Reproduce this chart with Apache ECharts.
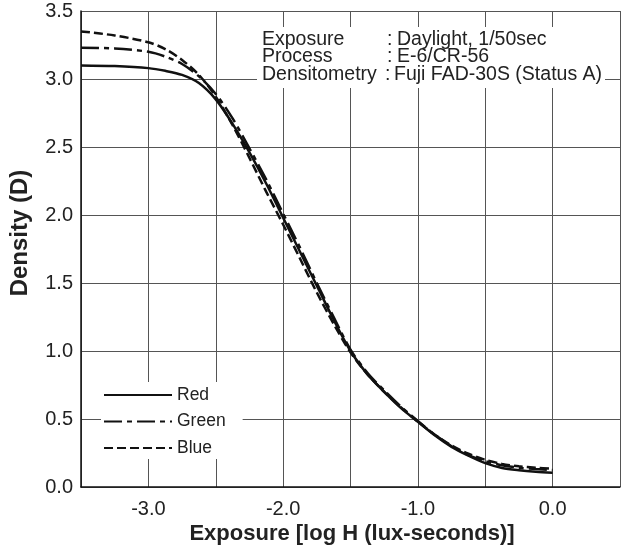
<!DOCTYPE html>
<html>
<head>
<meta charset="utf-8">
<script src="https://cdn.jsdelivr.net/npm/echarts@6.0.0/dist/echarts.min.js"></script>
<style>
html,body{margin:0;padding:0;background:#fff;}
#chart{width:623px;height:552px;}
</style>
</head>
<body>
<div id="chart"></div>
<script>
// ---- data ----
const logH = [-3.5, -3.25, -3.0, -2.875, -2.75, -2.625, -2.5, -2.375, -2.25, -2.125, -2.0, -1.875, -1.75, -1.625, -1.5, -1.375, -1.25, -1.125, -1.0, -0.875, -0.75, -0.625, -0.5, -0.375, -0.25, -0.125, 0.0];
const redD   = [3.10, 3.095, 3.08, 3.06, 3.03, 2.97, 2.85, 2.67, 2.46, 2.23, 1.98, 1.73, 1.48, 1.23, 1.00, 0.83, 0.70, 0.58, 0.48, 0.38, 0.295, 0.23, 0.175, 0.14, 0.123, 0.112, 0.105];
const greenD = [3.23, 3.225, 3.20, 3.165, 3.11, 3.02, 2.89, 2.71, 2.49, 2.26, 2.01, 1.76, 1.50, 1.25, 1.01, 0.84, 0.71, 0.59, 0.485, 0.385, 0.30, 0.235, 0.19, 0.16, 0.142, 0.132, 0.125];
const blueD  = [3.35, 3.32, 3.27, 3.22, 3.14, 3.03, 2.87, 2.66, 2.42, 2.17, 1.93, 1.68, 1.43, 1.20, 0.99, 0.83, 0.70, 0.585, 0.48, 0.385, 0.305, 0.245, 0.20, 0.17, 0.152, 0.142, 0.135];
const seriesNames = ['Red', 'Green', 'Blue'];
const xTickLabels = ['-3.0', '-2.0', '-1.0', '0.0'];
const infoKeys = ['Exposure', 'Process', 'Densitometry'];
const infoValues = ['Daylight, 1/50sec', 'E-6/CR-56', 'Fuji FAD-30S (Status A)'];
const xTitle = 'Exposure [log H (lux-seconds)]';
const yTitle = 'Density (D)';

const FONT = 'Liberation Sans';
const pairs = arr => logH.map((x, i) => [x, arr[i]]);

const chart = echarts.init(document.getElementById('chart'), null, {renderer: 'canvas'});

const lineBase = {type: 'line', smooth: 0.3, symbol: 'none', showSymbol: false, z: 5};

const infoRows = [40, 57, 74.5];
const infoGraphics = [];
infoGraphics.push({type: 'rect', z: 50, shape: {x: 257, y: 27, width: 348, height: 61}, style: {fill: '#fff'}});
infoKeys.forEach((k, i) => {
  infoGraphics.push({type: 'text', z: 51, x: 262, y: infoRows[i], style: {text: k, font: '19.5px ' + FONT, fill: '#222', textAlign: 'left', textVerticalAlign: 'middle'}});
  infoGraphics.push({type: 'text', z: 51, x: i === 2 ? 385 : 387, y: infoRows[i], style: {text: ':', font: '19.5px ' + FONT, fill: '#222', textAlign: 'left', textVerticalAlign: 'middle'}});
  infoGraphics.push({type: 'text', z: 51, x: i === 2 ? 394 : 397, y: infoRows[i], style: {text: infoValues[i], font: '19.5px ' + FONT, fill: '#222', textAlign: 'left', textVerticalAlign: 'middle'}});
});
infoGraphics.push({type: 'text', z: 51, x: 352, y: 534, style: {text: xTitle, font: 'bold 22px ' + FONT, fill: '#222', textAlign: 'center', textVerticalAlign: 'middle'}});
infoGraphics.push({type: 'text', z: 51, x: 20, y: 233, rotation: Math.PI / 2, style: {text: yTitle, font: 'bold 24px ' + FONT, fill: '#222', textAlign: 'center', textVerticalAlign: 'middle'}});

const option = {
  animation: false,
  backgroundColor: '#fff',
  textStyle: {fontFamily: FONT},
  grid: {left: 81, right: -3, top: 11, bottom: 65, containLabel: false},
  xAxis: {
    type: 'value', min: -3.5, max: 0.5, interval: 0.5,
    axisLine: {show: true, onZero: false, lineStyle: {color: '#111', width: 1.5}},
    axisTick: {show: false},
    splitLine: {show: true, lineStyle: {color: '#555', width: 1}},
    axisLabel: {
      fontSize: 20, color: '#222', margin: 12,
      formatter: v => { const s = v.toFixed(1); return xTickLabels.indexOf(s) >= 0 ? s : ''; }
    }
  },
  yAxis: {
    type: 'value', min: 0, max: 3.5, interval: 0.5,
    axisLine: {show: true, onZero: false, lineStyle: {color: '#111', width: 1.5}},
    axisTick: {show: false},
    splitLine: {show: true, lineStyle: {color: '#555', width: 1}},
    axisLabel: {fontSize: 20, color: '#222', margin: 8, formatter: v => v.toFixed(1)}
  },
  legend: {
    data: seriesNames, orient: 'vertical', left: 101, top: 382,
    itemWidth: 68, itemHeight: 14, itemGap: 8.5,
    backgroundColor: '#fff', padding: [4, 17, 2, 2],
    itemStyle: {opacity: 0},
    textStyle: {fontSize: 17.5, color: '#222', fontFamily: FONT},
    z: 20
  },
  graphic: {elements: infoGraphics},
  series: [
    Object.assign({}, lineBase, {name: seriesNames[0], data: pairs(redD), lineStyle: {color: '#111', width: 2.5, type: 'solid'}, itemStyle: {color: '#111'}}),
    Object.assign({}, lineBase, {name: seriesNames[1], data: pairs(greenD), lineStyle: {color: '#111', width: 2.5, type: [18, 5, 5, 5]}, itemStyle: {color: '#111'}}),
    Object.assign({}, lineBase, {name: seriesNames[2], data: pairs(blueD), lineStyle: {color: '#111', width: 2.5, type: [9, 4]}, itemStyle: {color: '#111'}})
  ]
};
chart.setOption(option);
</script>
</body>
</html>
